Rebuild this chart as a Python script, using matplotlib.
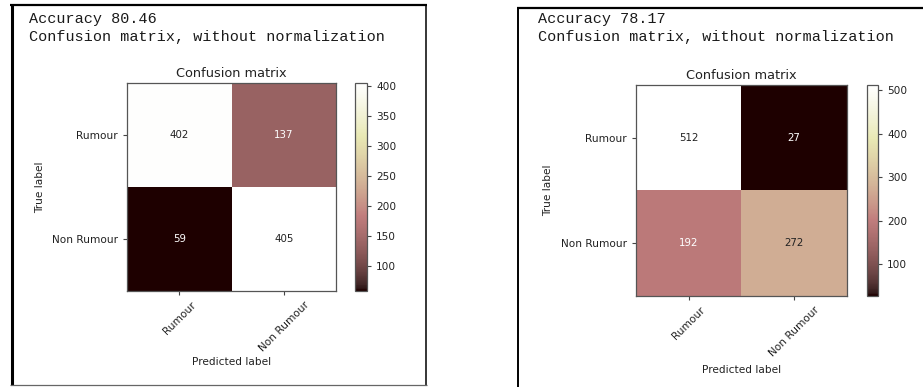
import numpy as np
import matplotlib
matplotlib.use('Agg')
import matplotlib.pyplot as plt
from matplotlib.lines import Line2D

# class names and the two confusion matrices
classes = ['Rumour', 'Non Rumour']
cm_first = [[402, 137],
            [59, 405]]
cm_second = [[512, 27],
             [192, 272]]
accuracy_first = 80.46
accuracy_second = 78.17
cbar_ticks_first = [100, 150, 200, 250, 300, 350, 400]
cbar_ticks_second = [100, 200, 300, 400, 500]

W, H = 923, 387
fig = plt.figure(figsize=(W / 100, H / 100), dpi=100)

def box(x0, y0, x1, y1):
    # pixel box -> figure fraction [left, bottom, width, height]
    return [x0 / W, (H - y1) / H, (x1 - x0) / W, (y1 - y0) / H]

def edge(x0, y0, x1, y1, lw, color='black'):
    # one side of a cell frame, in pixels from the top left
    fig.add_artist(Line2D([x0 / W, x1 / W], [1 - y0 / H, 1 - y1 / H], transform=fig.transFigure,
                          color=color, linewidth=lw, solid_capstyle='butt'))

def plot_cm(cm, acc, ticks, text_x, ax_px, cb_px, xlab_y, ylab_x):
    cm = np.array(cm)
    # printed output above the plot
    fig.text(text_x / W, 1 - 19 / H, 'Accuracy %.2f' % acc, family='Liberation Mono',
             fontsize=10.9, color='#1a1a1a', va='center', ha='left')
    fig.text(text_x / W, 1 - 37.5 / H, 'Confusion matrix, without normalization',
             family='Liberation Mono', fontsize=10.9, color='#1a1a1a', va='center', ha='left')

    ax = fig.add_axes(box(*ax_px))
    im = ax.imshow(cm, interpolation='nearest', cmap=plt.cm.pink, aspect='auto')
    ax.set_title('Confusion matrix', fontsize=9.3, color='#222222', pad=4)
    tick_marks = np.arange(len(classes))
    ax.set_xticks(tick_marks)
    ax.set_xticklabels(classes, rotation=45, fontsize=7.6, color='#222222')
    ax.set_yticks(tick_marks)
    ax.set_yticklabels(classes, fontsize=7.6, color='#222222')
    ax.tick_params(length=3, width=0.8, color='#444444')
    for s in ax.spines.values():
        s.set_color('#555555')
        s.set_linewidth(0.9)

    thresh = cm.max() / 2.
    for i in range(cm.shape[0]):
        for j in range(cm.shape[1]):
            ax.text(j, i, format(cm[i, j], 'd'), ha='center', va='center', fontsize=7.4,
                    color='white' if cm[i, j] < thresh else '#222222')

    ax.set_ylabel('True label', fontsize=7.6, color='#222222')
    ax.set_xlabel('Predicted label', fontsize=7.6, color='#222222')
    ax.yaxis.set_label_coords(ylab_x, 0.5)
    ax.xaxis.set_label_coords(0.5, xlab_y)

    cax = fig.add_axes(box(*cb_px))
    cb = fig.colorbar(im, cax=cax, ticks=ticks)
    cb.ax.tick_params(labelsize=7.6, length=3, width=0.8, color='#444444', labelcolor='#222222')
    cb.outline.set_edgecolor('#555555')
    cb.outline.set_linewidth(0.9)

plot_cm(cm_first, accuracy_first, cbar_ticks_first, 29,
        (127, 83, 336, 291), (355, 83, 367, 291), -0.318, -0.392)
plot_cm(cm_second, accuracy_second, cbar_ticks_second, 538,
        (636, 85, 847, 296), (867, 85, 878, 296), -0.327, -0.393)

# frames round the two output cells
edge(11.5, 4, 11.5, 385, 2.2)
edge(10, 5, 427, 5, 1.6)
edge(426, 4, 426, 385, 1.1)
edge(10, 384.5, 427, 384.5, 0.9, '#666666')
edge(517.5, 7, 517.5, 387, 1.4)
edge(516.5, 8, 923, 8, 1.6)

fig.savefig('out.png', dpi=100)
